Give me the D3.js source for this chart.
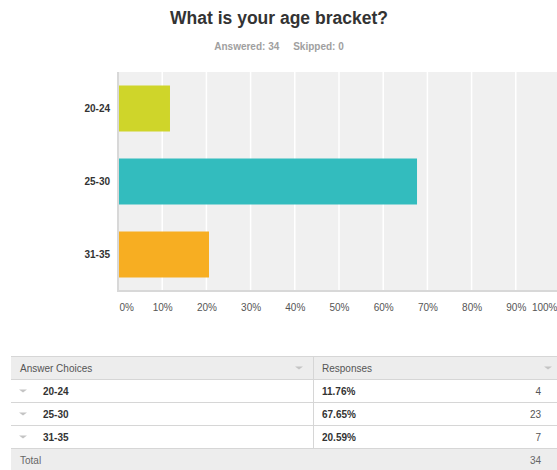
<!DOCTYPE html>
<html>
<head>
<meta charset="utf-8">
<script src="https://cdn.jsdelivr.net/npm/d3@7"></script>
<style>
  body { margin: 0; background: #fff; font-family: "Liberation Sans", Arial, sans-serif; }
</style>
</head>
<body>
<div id="chart"></div>
<script>
// data
const choices = ["20-24", "25-30", "31-35"];
const percents = [11.76, 67.65, 20.59];
const counts = [4, 23, 7];
const barColors = ["#cfd52a", "#33bcbe", "#f7ae22"];
const ticks = [0, 10, 20, 30, 40, 50, 60, 70, 80, 90, 100];
const answered = 34, skipped = 0;

const width = 557, height = 470;
const svg = d3.select("#chart").append("svg")
    .attr("width", width)
    .attr("height", height)
    .style("font-family", "'Liberation Sans', Arial, sans-serif");

// title
svg.append("text")
    .attr("x", 279).attr("y", 24)
    .attr("text-anchor", "middle")
    .style("font-size", "17.5px").style("font-weight", "bold")
    .attr("fill", "#333")
    .text("What is your age bracket?");

svg.append("text")
    .attr("x", 279).attr("y", 50)
    .attr("text-anchor", "middle")
    .style("font-size", "10px").style("font-weight", "bold")
    .attr("fill", "#a0a0a0")
    .attr("xml:space", "preserve")
    .text(`Answered: ${answered}     Skipped: ${skipped}`);

// plot
const plot = { left: 118, right: 560, top: 72, bottom: 291 };
const x = d3.scaleLinear().domain([0, 100]).range([plot.left, plot.right]);
const y = d3.scaleBand().domain(choices).range([plot.top, plot.bottom])
    .paddingInner(0.37).paddingOuter(0.185);

svg.append("rect")
    .attr("x", plot.left).attr("y", plot.top)
    .attr("width", plot.right - plot.left).attr("height", plot.bottom - plot.top)
    .attr("fill", "#f0f0f0");

svg.append("g").selectAll("line")
    .data(ticks.slice(1))
    .join("line")
    .attr("x1", d => x(d)).attr("x2", d => x(d))
    .attr("y1", plot.top).attr("y2", plot.bottom)
    .attr("stroke", "#fff").attr("stroke-width", 1.5);

svg.append("g").selectAll("rect")
    .data(choices)
    .join("rect")
    .attr("x", plot.left)
    .attr("y", d => y(d))
    .attr("width", (d, i) => x(percents[i]) - plot.left)
    .attr("height", y.bandwidth())
    .attr("fill", (d, i) => barColors[i]);

// axis lines
svg.append("line")
    .attr("x1", plot.left).attr("x2", plot.left)
    .attr("y1", plot.top).attr("y2", plot.bottom)
    .attr("stroke", "#d8d8d8").attr("stroke-width", 2);
svg.append("line")
    .attr("x1", plot.left - 1).attr("x2", plot.right)
    .attr("y1", plot.bottom).attr("y2", plot.bottom)
    .attr("stroke", "#d8d8d8").attr("stroke-width", 2);

const xAxis = svg.append("g")
    .attr("transform", `translate(0,${plot.bottom})`)
    .call(d3.axisBottom(x).tickValues(ticks).tickSize(0).tickPadding(13).tickFormat(d => d + "%"));
xAxis.select(".domain").remove();
xAxis.selectAll("text")
    .style("font-size", "10px")
    .style("font-family", "'Liberation Sans', Arial, sans-serif")
    .attr("fill", "#555");
// first label sits right of its line, last one is kept inside the page
xAxis.selectAll(".tick").filter(d => d === 0).select("text")
    .attr("text-anchor", "start").attr("x", 1);
xAxis.selectAll(".tick").filter(d => d === 100).select("text")
    .attr("text-anchor", "end").attr("x", width - x(100));

const yAxis = svg.append("g")
    .attr("transform", `translate(${plot.left},0)`)
    .call(d3.axisLeft(y).tickSize(0).tickPadding(8));
yAxis.select(".domain").remove();
yAxis.selectAll("text")
    .style("font-size", "10px").style("font-weight", "bold")
    .style("font-family", "'Liberation Sans', Arial, sans-serif")
    .attr("fill", "#333");

// table
const tbl = { left: 11, right: 557, top: 356, rowH: 23, split: 313 };
const total = d3.sum(counts);
const rows = choices.map((c, i) => ({ c, p: percents[i].toFixed(2) + "%", n: counts[i] }));
const table = svg.append("g");

const rowTop = i => tbl.top + tbl.rowH * i;
// header and total backgrounds
table.append("rect")
    .attr("x", tbl.left).attr("y", rowTop(0))
    .attr("width", tbl.right - tbl.left).attr("height", tbl.rowH)
    .attr("fill", "#ededed");
table.append("rect")
    .attr("x", tbl.left).attr("y", rowTop(4))
    .attr("width", tbl.right - tbl.left).attr("height", height - rowTop(4))
    .attr("fill", "#ededed");

// row separator lines
table.selectAll("line.sep")
    .data([0, 1, 2, 3, 4])
    .join("line")
    .attr("class", "sep")
    .attr("x1", tbl.left).attr("x2", tbl.right)
    .attr("y1", d => rowTop(d) + 0.5).attr("y2", d => rowTop(d) + 0.5)
    .attr("stroke", "#d6d6d6");
table.append("line")
    .attr("x1", tbl.split + 0.5).attr("x2", tbl.split + 0.5)
    .attr("y1", rowTop(0)).attr("y2", rowTop(4))
    .attr("stroke", "#d6d6d6");

const caret = (cx, cy) => table.append("path")
    .attr("d", `M${cx - 4},${cy - 1.5}L${cx + 4},${cy - 1.5}L${cx},${cy + 1.5}Z`)
    .attr("fill", "#c4c4c4");

const textY = i => rowTop(i) + 15.5;
table.append("text").attr("x", 20).attr("y", textY(0))
    .style("font-size", "10px").attr("fill", "#555").text("Answer Choices");
table.append("text").attr("x", 322).attr("y", textY(0))
    .style("font-size", "10px").attr("fill", "#555").text("Responses");
caret(299, rowTop(0) + 12);
caret(548, rowTop(0) + 12);

rows.forEach((r, i) => {
    const k = i + 1;
    caret(23, rowTop(k) + 12);
    table.append("text").attr("x", 43).attr("y", textY(k))
        .style("font-size", "10px").style("font-weight", "bold").attr("fill", "#333").text(r.c);
    table.append("text").attr("x", 322).attr("y", textY(k))
        .style("font-size", "10px").style("font-weight", "bold").attr("fill", "#333").text(r.p);
    table.append("text").attr("x", 541).attr("y", textY(k))
        .attr("text-anchor", "end")
        .style("font-size", "10px").attr("fill", "#555").text(r.n);
});

table.append("text").attr("x", 20).attr("y", textY(4))
    .style("font-size", "10px").attr("fill", "#666").text("Total");
table.append("text").attr("x", 541).attr("y", textY(4))
    .attr("text-anchor", "end")
    .style("font-size", "10px").attr("fill", "#666").text(total);
</script>
</body>
</html>
